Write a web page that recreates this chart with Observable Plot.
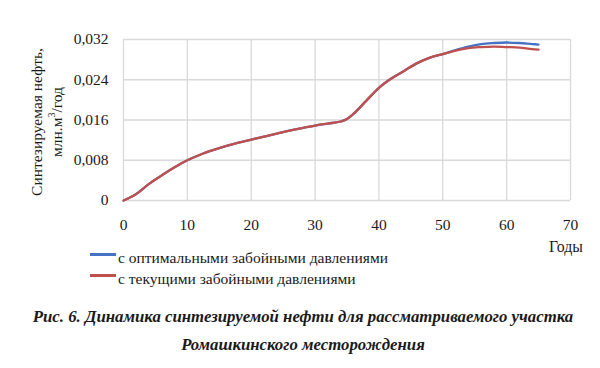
<!DOCTYPE html>
<html>
<head>
<meta charset="utf-8">
<script src="https://cdn.jsdelivr.net/npm/d3@7"></script>
<script src="https://cdn.jsdelivr.net/npm/@observablehq/plot@0.6"></script>
<style>
  body { margin: 0; background: #fff; }
  #wrap, #wrap * { font-family: 'Liberation Serif', serif; }
  #wrap { position: relative; width: 600px; height: 368px; color: #1a1a1a; }
  #chart { position: absolute; left: 0; top: 0; }
  .ylab { position: absolute; white-space: nowrap; font-size: 15.5px; transform: translate(-50%, -50%) rotate(-90deg); }
  #xlab { position: absolute; left: 549px; top: 238px; font-size: 15.8px; }
  .leg { position: absolute; left: 90px; font-size: 15.5px; white-space: nowrap; display: flex; align-items: center; }
  .leg span.sw { display: inline-block; width: 26px; height: 3px; margin-right: 2px; position: relative; top: -4px; }
  #cap { position: absolute; left: 0; top: 303px; width: 606px; text-align: center; font-weight: bold; font-style: italic; font-size: 16.8px; line-height: 28px; }
</style>
</head>
<body>
<div id="wrap">
  <div id="chart"></div>
  <div class="ylab" style="left:37px; top:122px;">Синтезируемая нефть,</div>
  <div class="ylab" style="left:56px; top:122px;">млн.м<sup style="font-size:10px">3</sup>/год</div>
  <div id="xlab">Годы</div>
  <div class="leg" style="top:249px;"><span class="sw" style="background:#4472C4"></span>с оптимальными забойными давлениями</div>
  <div class="leg" style="top:270px;"><span class="sw" style="background:#C0504D"></span>с текущими забойными давлениями</div>
  <div id="cap">Рис. 6. Динамика синтезируемой нефти для рассматриваемого участка<br>Ромашкинского месторождения</div>
</div>
<script>
const years = [0,2,4,6,8,10,12,14,16,18,20,22,24,26,28,30,32,34,35,36,38,40,42,44,46,48,50,52,54,56,58,60,62,64,65];
const current = [0,0.0013,0.0033,0.0050,0.0066,0.0080,0.0091,0.0100,0.0108,0.0115,0.0121,0.0127,0.0133,0.0139,0.0144,0.0149,0.0153,0.0157,0.0162,0.0172,0.0198,0.0224,0.0243,0.0258,0.0273,0.0284,0.0291,0.0298,0.0303,0.0305,0.0306,0.0305,0.0304,0.0301,0.0300];
const optimal = [0,0.0013,0.0033,0.0050,0.0066,0.0080,0.0091,0.0100,0.0108,0.0115,0.0121,0.0127,0.0133,0.0139,0.0144,0.0149,0.0153,0.0157,0.0162,0.0172,0.0198,0.0224,0.0243,0.0258,0.0273,0.0284,0.0291,0.0299,0.0306,0.0311,0.0313,0.0314,0.0313,0.0311,0.0310];
const xTicks = [0,10,20,30,40,50,60,70];
const yTicks = [0,0.008,0.016,0.024,0.032];
const seriesNames = ["с оптимальными забойными давлениями","с текущими забойными давлениями"];
const seriesColors = ["#4472C4","#C0504D"];

const data = [];
years.forEach((y,i) => data.push({year:y, value:optimal[i], s:seriesNames[0]}));
years.forEach((y,i) => data.push({year:y, value:current[i], s:seriesNames[1]}));

const fmt = d => d === 0 ? "0" : d.toFixed(3).replace(".", ",");

const chart = Plot.plot({
  width: 600,
  height: 300,
  marginLeft: 123,
  marginRight: 30,
  marginTop: 39,
  marginBottom: 100,
  style: { fontFamily: "Liberation Serif", fontSize: "15.5px", color: "#1a1a1a", background: "transparent" },
  x: { domain: [0,70] },
  y: { domain: [0,0.032] },
  color: { domain: seriesNames, range: seriesColors },
  marks: [
    Plot.gridX(xTicks, { stroke: "#d9d9d9", strokeOpacity: 1, strokeWidth: 1.3 }),
    Plot.gridY(yTicks, { stroke: "#d9d9d9", strokeOpacity: 1, strokeWidth: 1.3 }),
    Plot.axisX(xTicks, { tickSize: 0, tickPadding: 18, label: null, tickFormat: d => String(d) }),
    Plot.axisY(yTicks, { tickSize: 0, tickPadding: 15, label: null, tickFormat: fmt }),
    Plot.line(data, { x: "year", y: "value", stroke: "s", z: "s", strokeWidth: 2.3, curve: "monotone-x" })
  ]
});
document.getElementById("chart").appendChild(chart);
</script>
</body>
</html>
